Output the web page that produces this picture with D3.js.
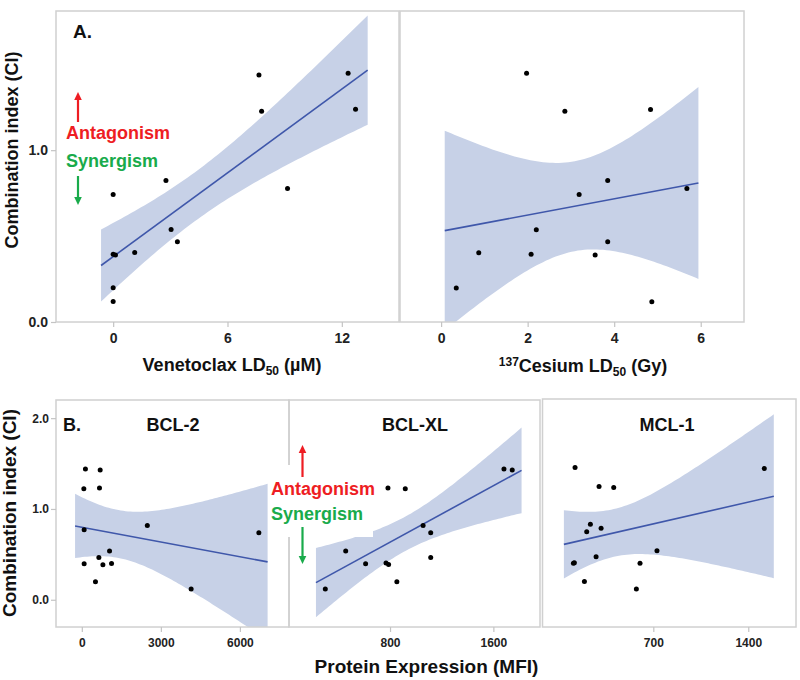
<!DOCTYPE html>
<html>
<head>
<meta charset="utf-8">
<script src="https://cdn.jsdelivr.net/npm/d3@7"></script>
<style>
  html, body { margin: 0; padding: 0; background: #fff; }
  svg { display: block; font-family: "Liberation Sans", Arial, sans-serif; }
</style>
</head>
<body>
<svg id="chart" width="800" height="680"></svg>
<script>
// ---------- Data ----------
const venetoclaxLD50 = [0, 0, 0, 0, 0.12, 1.13, 2.77, 3.04, 3.37, 7.65, 7.79, 9.15, 12.33, 12.72];
const ciVenetoclax   = [0.742, 0.20, 0.12, 0.395, 0.39, 0.405, 0.824, 0.539, 0.467, 1.438, 1.227, 0.777, 1.448, 1.238];

const cesiumLD50 = [1.975, 2.86, 4.84, 3.85, 3.19, 5.68, 2.2, 3.85, 0.87, 2.08, 3.56, 0.35, 4.87];
const ciCesium   = [1.448, 1.227, 1.237, 0.824, 0.742, 0.777, 0.537, 0.467, 0.403, 0.395, 0.39, 0.198, 0.118];

const bcl2MFI = [137, 697, 76, 671, 88, 2486, 6720, 1052, 647, 88, 800, 1128, 518, 4150];
const ciBcl2  = [1.439, 1.428, 1.222, 1.23, 0.771, 0.818, 0.738, 0.536, 0.466, 0.396, 0.385, 0.40, 0.198, 0.118];

const bclxlMFI = [1682, 1746, 784, 918, 647, 1056, 1115, 457, 1115, 611, 769, 789, 853, 299];
const ciBclxl  = [1.439, 1.428, 1.23, 1.222, 0.771, 0.818, 0.738, 0.536, 0.466, 0.396, 0.404, 0.389, 0.198, 0.118];

const mcl1MFI = [123, 1518, 300, 408, 236, 209, 315, 727, 278, 111, 118, 602, 192, 575];
const ciMcl1  = [1.45, 1.439, 1.241, 1.23, 0.826, 0.745, 0.782, 0.536, 0.47, 0.40, 0.404, 0.40, 0.198, 0.118];

const ticksVenetoclax = [0, 6, 12];
const ticksCesium = [0, 2, 4, 6];
const ticksCiA = [0, 1];
const ticksCiB = [0, 1, 2];
const ticksBcl2 = [0, 3000, 6000];
const ticksBclxl = [800, 1600];
const ticksMcl1 = [700, 1400];

// ---------- Styles ----------
const BAND = "#c7d1e7";
const LINE = "#3f57aa";
const FRAME = "#d0d0d0";
const RED = "#ee1d23";
const GREEN = "#19ab4b";

const svg = d3.select("#chart");
const defs = svg.append("defs");

// t quantiles (0.975) by degrees of freedom
const tQuant = {11: 2.2010, 12: 2.1788};

function linearFit(xs, ys) {
  const n = xs.length;
  const mx = d3.mean(xs), my = d3.mean(ys);
  let sxx = 0, sxy = 0;
  xs.forEach((x, i) => { sxx += (x - mx) ** 2; sxy += (x - mx) * (ys[i] - my); });
  const b = sxy / sxx, a = my - b * mx;
  let ssr = 0;
  xs.forEach((x, i) => { ssr += (ys[i] - (a + b * x)) ** 2; });
  const s = Math.sqrt(ssr / (n - 2));
  const t = tQuant[n - 2];
  const [lo, hi] = d3.extent(xs);
  const ext = 0.05 * (hi - lo);
  return {
    x0: lo - ext, x1: hi + ext,
    at: x => {
      const fit = a + b * x;
      const se = s * Math.sqrt(1 / n + (x - mx) ** 2 / sxx);
      return {x, fit, lo: fit - t * se, hi: fit + t * se};
    }
  };
}

let clipId = 0;
function panel(opt) {
  const {x0, x1, y0, y1, xDomain, yDomain, xs, ys, xTicks, yTicks, tickFont} = opt;
  const x = d3.scaleLinear().domain(xDomain).range([x0, x1]);
  const y = d3.scaleLinear().domain(yDomain).range([y1, y0]);
  const id = "clip" + (clipId++);
  defs.append("clipPath").attr("id", id)
    .append("rect").attr("x", x0).attr("y", y0).attr("width", x1 - x0).attr("height", y1 - y0);
  const g = svg.append("g");
  const inner = g.append("g").attr("clip-path", `url(#${id})`);

  const fit = linearFit(xs, ys);
  const samples = d3.range(0, 81).map(i => fit.at(fit.x0 + (fit.x1 - fit.x0) * i / 80));
  inner.append("path").datum(samples)
    .attr("fill", BAND)
    .attr("d", d3.area().x(d => x(d.x)).y0(d => y(d.lo)).y1(d => y(d.hi)));
  inner.append("path").datum([samples[0], samples[samples.length - 1]])
    .attr("fill", "none").attr("stroke", LINE).attr("stroke-width", 1.6)
    .attr("d", d3.line().x(d => x(d.x)).y(d => y(d.fit)));
  inner.selectAll("circle.pt").data(xs.map((v, i) => [v, ys[i]])).join("circle")
    .attr("class", "pt")
    .attr("cx", d => x(d[0])).attr("cy", d => y(d[1])).attr("r", 2.5).attr("fill", "#000");

  g.append("rect").attr("x", x0).attr("y", y0).attr("width", x1 - x0).attr("height", y1 - y0)
    .attr("fill", "none").attr("stroke", FRAME).attr("stroke-width", 1.5);

  const xa = g.append("g").attr("transform", `translate(0,${y1})`)
    .call(d3.axisBottom(x).tickValues(xTicks).tickFormat(d3.format("d")).tickSize(5).tickPadding(6));
  styleAxis(xa, tickFont);
  if (yTicks) {
    const ya = g.append("g").attr("transform", `translate(${x0},0)`)
      .call(d3.axisLeft(y).tickValues(yTicks).tickFormat(d3.format(".1f")).tickSize(5).tickPadding(opt.yPad || 2));
    styleAxis(ya, tickFont);
  }
  return {x, y, g};
}

function styleAxis(a, fs) {
  a.select(".domain").remove();
  a.selectAll(".tick line").attr("stroke", "#c4c4c4").attr("stroke-width", 1.2);
  a.selectAll(".tick text").attr("fill", "#222").attr("font-size", fs).attr("font-weight", "bold")
    .attr("font-family", "'Liberation Sans', Arial, sans-serif");
}

function arrow(x, yTail, yTip, color) {
  const dir = yTip < yTail ? -1 : 1;
  svg.append("line").attr("x1", x).attr("x2", x).attr("y1", yTail).attr("y2", yTip - dir * 6)
    .attr("stroke", color).attr("stroke-width", 2.2);
  svg.append("path")
    .attr("d", `M${x - 3.8},${yTip - dir * 8} L${x + 3.8},${yTip - dir * 8} L${x},${yTip} Z`)
    .attr("fill", color);
}

function boldText(x, y, txt, size, color, anchor) {
  return svg.append("text").attr("x", x).attr("y", y).attr("font-size", size)
    .attr("font-weight", "bold").attr("fill", color || "#111")
    .attr("text-anchor", anchor || "start").text(txt);
}

// ---------- Panel A ----------
panel({x0: 56, x1: 399, y0: 11, y1: 322, xDomain: [-3, 15], yDomain: [0, 1.81],
  xs: venetoclaxLD50, ys: ciVenetoclax, xTicks: ticksVenetoclax, yTicks: ticksCiA, tickFont: 14, yPad: 3});
panel({x0: 400, x1: 744, y0: 11, y1: 322, xDomain: [-0.95, 7.0], yDomain: [0, 1.81],
  xs: cesiumLD50, ys: ciCesium, xTicks: ticksCesium, yTicks: null, tickFont: 14});

boldText(73, 38, "A.", 19, "#111");
arrow(78, 122, 92, RED);
boldText(66, 139, "Antagonism", 18, RED);
boldText(66, 167, "Synergism", 18, GREEN);
arrow(78, 176, 205, GREEN);

svg.append("text").attr("transform", "translate(17.5,150) rotate(-90)")
  .attr("text-anchor", "middle").attr("font-size", 18).attr("font-weight", "bold").attr("fill", "#111")
  .text("Combination index (CI)");

{
  const t = svg.append("text").attr("x", 232).attr("y", 371).attr("text-anchor", "middle")
    .attr("font-size", 18).attr("font-weight", "bold").attr("fill", "#111");
  t.append("tspan").text("Venetoclax LD");
  t.append("tspan").attr("font-size", 12).attr("dy", 4).text("50");
  t.append("tspan").attr("dy", -4).text(" (µM)");
}
{
  const t = svg.append("text").attr("x", 583).attr("y", 372).attr("text-anchor", "middle")
    .attr("font-size", 18).attr("font-weight", "bold").attr("fill", "#111");
  t.append("tspan").attr("font-size", 12).attr("dy", -6).text("137");
  t.append("tspan").attr("dy", 6).text("Cesium LD");
  t.append("tspan").attr("font-size", 12).attr("dy", 4).text("50");
  t.append("tspan").attr("dy", -4).text(" (Gy)");
}

// ---------- Panel B ----------
panel({x0: 56, x1: 289, y0: 400, y1: 627, xDomain: [-980, 7864], yDomain: [-0.3, 2.2],
  xs: bcl2MFI, ys: ciBcl2, xTicks: ticksBcl2, yTicks: ticksCiB, tickFont: 12, yPad: 2});
panel({x0: 289, x1: 540, y0: 400, y1: 627, xDomain: [18, 1961], yDomain: [-0.3, 2.2],
  xs: bclxlMFI, ys: ciBclxl, xTicks: ticksBclxl, yTicks: null, tickFont: 12});
panel({x0: 542.5, x1: 796, y0: 399, y1: 627, xDomain: [-117, 1752], yDomain: [-0.3, 2.2],
  xs: mcl1MFI, ys: ciMcl1, xTicks: ticksMcl1, yTicks: null, tickFont: 12});

boldText(63, 431, "B.", 18, "#111");
boldText(173, 431, "BCL-2", 18, "#111", "middle");
boldText(415, 431, "BCL-XL", 18, "#111", "middle");
boldText(667, 431, "MCL-1", 18, "#111", "middle");

svg.append("rect").attr("x", 269).attr("y", 465).attr("width", 104).attr("height", 72).attr("fill", "#fff");
arrow(302.5, 477, 445, RED);
boldText(271, 495, "Antagonism", 18, RED);
boldText(271, 520, "Synergism", 18, GREEN);
arrow(302.5, 527, 564, GREEN);

svg.append("text").attr("transform", "translate(15.5,513) rotate(-90)")
  .attr("text-anchor", "middle").attr("font-size", 19).attr("font-weight", "bold").attr("fill", "#111")
  .text("Combination index (CI)");
boldText(426.5, 673, "Protein Expression (MFI)", 19, "#111", "middle");
</script>
</body>
</html>
